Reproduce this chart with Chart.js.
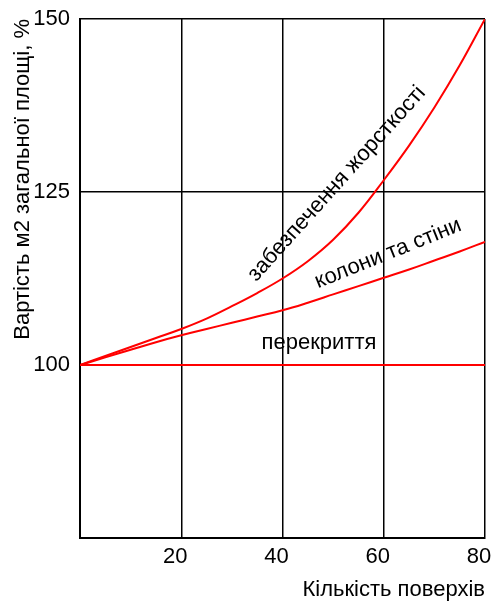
<!DOCTYPE html>
<html>
<head>
<meta charset="utf-8">
<script src="https://cdn.jsdelivr.net/npm/chart.js@4"></script>
<style>
  html, body { margin: 0; padding: 0; background: #fff; }
</style>
</head>
<body>
<canvas id="chart" width="491" height="601"></canvas>
<script>
// кількість поверхів
const floors = [0, 5, 10, 15, 20, 25, 30, 35, 40, 45, 50, 55, 60, 65, 70, 75, 80];
// вартість, %
const stiffness = [100, 101.3, 102.6, 103.9, 105.2, 106.7, 108.5, 110.4, 112.5, 115.0, 118.1, 122.0, 126.7, 131.7, 137.2, 143.3, 150];
const columns = [100, 101.1, 102.2, 103.3, 104.3, 105.2, 106.1, 107.0, 107.9, 109.0, 110.2, 111.4, 112.6, 113.8, 115.1, 116.4, 117.8];
const slabs = [100, 100, 100, 100, 100, 100, 100, 100, 100, 100, 100, 100, 100, 100, 100, 100, 100];

const xTicks = [20, 40, 60, 80];
const yTicks = [100, 125, 150];

// підписи кривих: текст, положення (в одиницях осей), кут
const curveLabels = [
  { text: 'забезпечення жорсткості', x: 51.6, y: 125.6, angle: -48 },
  { text: 'колони та стіни', x: 61.3, y: 115.3, angle: -22 },
  { text: 'перекриття', x: 47.2, y: 102.3, angle: 0 }
];

const font = "'Liberation Sans', Arial, sans-serif";
const fontSize = 22;
Chart.defaults.font.family = font;
Chart.defaults.color = '#000';

const toPoints = vals => floors.map((f, i) => ({ x: f, y: vals[i] }));

const lineStyle = {
  borderColor: '#ff0000',
  borderWidth: 2,
  pointRadius: 0,
  fill: false,
  tension: 0.4
};

const labelPlugin = {
  id: 'curveLabels',
  afterDatasetsDraw(chart) {
    const { ctx, scales } = chart;
    ctx.save();
    ctx.font = fontSize + 'px ' + font;
    ctx.fillStyle = '#000';
    ctx.textAlign = 'center';
    ctx.textBaseline = 'alphabetic';
    curveLabels.forEach(l => {
      ctx.save();
      ctx.translate(scales.x.getPixelForValue(l.x), scales.y.getPixelForValue(l.y));
      ctx.rotate(l.angle * Math.PI / 180);
      ctx.fillText(l.text, 0, 0);
      ctx.restore();
    });
    ctx.restore();
  }
};

new Chart(document.getElementById('chart'), {
  type: 'line',
  data: {
    datasets: [
      { label: 'забезпечення жорсткості', data: toPoints(stiffness), ...lineStyle },
      { label: 'колони та стіни', data: toPoints(columns), ...lineStyle },
      { label: 'перекриття', data: toPoints(slabs), ...lineStyle, tension: 0 }
    ]
  },
  options: {
    responsive: false,
    animation: false,
    layout: { padding: { left: 0, right: 6, top: 19, bottom: 0 } },
    plugins: {
      legend: { display: false },
      tooltip: { enabled: false }
    },
    scales: {
      x: {
        type: 'linear',
        min: 0,
        max: 80,
        afterBuildTicks: axis => { axis.ticks = xTicks.map(v => ({ value: v })); },
        afterFit: axis => { axis.height = 63; axis.paddingLeft = 0; axis.paddingRight = 0; },
        grid: { color: '#000', lineWidth: 1.5, drawTicks: false },
        border: { color: '#000', width: 2 },
        ticks: { font: { size: fontSize }, padding: 6, labelOffset: -6, maxRotation: 0 },
        title: {
          display: true,
          text: 'Кількість поверхів',
          align: 'end',
          font: { size: fontSize, lineHeight: 1.0 },
          padding: { top: 0, bottom: 0 }
        }
      },
      y: {
        min: 75,
        max: 150,
        afterBuildTicks: axis => { axis.ticks = yTicks.map(v => ({ value: v })); },
        afterFit: axis => { axis.width = 80; axis.paddingTop = 0; axis.paddingBottom = 0; },
        grid: { color: '#000', lineWidth: 1.5, drawTicks: false },
        border: { color: '#000', width: 2 },
        ticks: { font: { size: fontSize }, padding: 10 },
        title: {
          display: true,
          text: 'Вартість м2 загальної площі, %',
          align: 'end',
          font: { size: fontSize },
          padding: { top: 10, bottom: 0 }
        }
      }
    }
  },
  plugins: [labelPlugin]
});
</script>
</body>
</html>
